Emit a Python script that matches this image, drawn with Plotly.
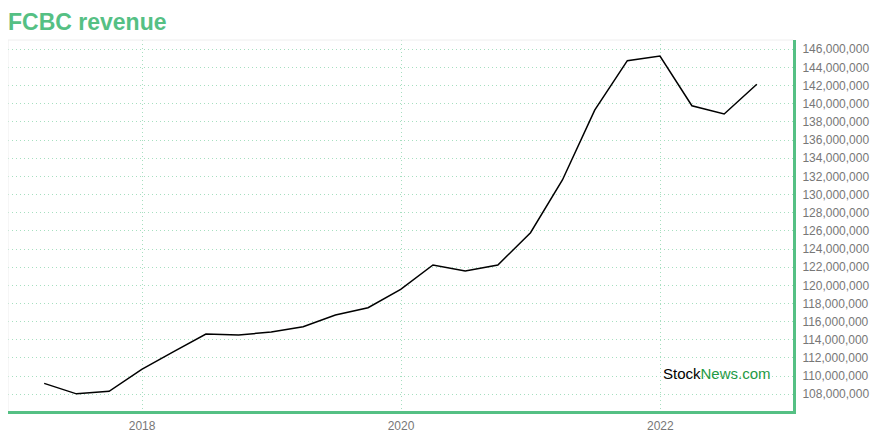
import plotly.graph_objects as go

dates = [
    "2017-03-31", "2017-06-30", "2017-09-30", "2017-12-31",
    "2018-03-31", "2018-06-30", "2018-09-30", "2018-12-31",
    "2019-03-31", "2019-06-30", "2019-09-30", "2019-12-31",
    "2020-03-31", "2020-06-30", "2020-09-30", "2020-12-31",
    "2021-03-31", "2021-06-30", "2021-09-30", "2021-12-31",
    "2022-03-31", "2022-06-30", "2022-09-30",
]
revenue = [
    109.2e6, 108.05e6, 108.33e6, 110.75e6,
    112.7e6, 114.64e6, 114.53e6, 114.86e6,
    115.45e6, 116.73e6, 117.54e6, 119.56e6,
    122.24e6, 121.58e6, 122.24e6, 125.8e6,
    131.6e6, 139.3e6, 144.74e6, 145.26e6,
    139.78e6, 138.87e6, 142.14e6,
]
y_ticks = list(range(108_000_000, 146_000_001, 2_000_000))
y_tick_labels = [f"{v:,}" for v in y_ticks]
x_ticks = ["2018-01-01", "2020-01-01", "2022-01-01"]
x_tick_labels = ["2018", "2020", "2022"]

GREEN = "#55c084"
GRID = "#a6dfc0"

fig = go.Figure()
fig.add_trace(go.Scatter(
    x=dates, y=revenue, mode="lines",
    line=dict(color="#000000", width=1.5),
    hoverinfo="x+y",
))

fig.update_layout(
    width=864, height=424,
    margin=dict(l=0, r=79, t=32, b=21, autoexpand=False),
    paper_bgcolor="white", plot_bgcolor="white",
    showlegend=False,
    font=dict(family="Liberation Sans, Arial, sans-serif", color="#777777", size=12),
    title=dict(
        text="<b>FCBC revenue</b>",
        x=0.0, xanchor="left", y=0.967, yanchor="middle",
        font=dict(size=23, color=GREEN, family="Liberation Sans, Arial, sans-serif"),
    ),
    xaxis=dict(
        type="date",
        range=["2016-12-19", "2023-01-10"],
        tickvals=x_ticks, ticktext=x_tick_labels,
        showgrid=True, gridcolor=GRID, griddash="1px,3px", gridwidth=1,
        showline=True, linecolor=GREEN, linewidth=3,
        ticks="", zeroline=False, automargin=False,
        ticklabelstandoff=2,
        tickfont=dict(size=12, color="#777777"),
    ),
    yaxis=dict(
        side="right",
        range=[106.16e6, 147.02e6],
        tickvals=y_ticks, ticktext=y_tick_labels,
        showgrid=True, gridcolor=GRID, griddash="1px,3px", gridwidth=1,
        showline=True, linecolor=GREEN, linewidth=3,
        ticks="", zeroline=False, automargin=False,
        ticklabelstandoff=4,
        tickfont=dict(size=12, color="#777777"),
    ),
    shapes=[
        dict(type="line", xref="paper", yref="paper", x0=0, x1=1, y0=1, y1=1,
             line=dict(color="#eeeeee", width=1)),
        dict(type="line", xref="paper", yref="paper", x0=0, x1=0, y0=0, y1=1,
             line=dict(color="#eeeeee", width=1)),
    ],
    annotations=[
        dict(
            text="<span style='color:#000000'>Stock</span><span style='color:#1e9a45'>News.com</span>",
            xref="paper", yref="paper", x=0.975, y=0.1,
            xanchor="right", yanchor="middle", showarrow=False,
            font=dict(size=15, family="Liberation Sans, Arial, sans-serif"),
        ),
    ],
)

fig.write_html("out.html")
